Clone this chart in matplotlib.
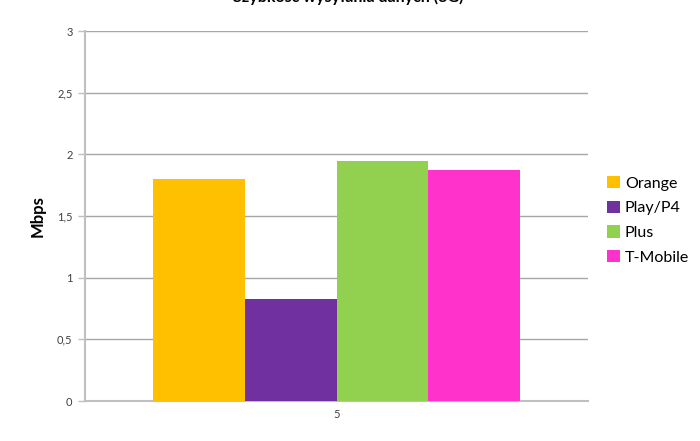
import matplotlib
matplotlib.use("Agg")
import matplotlib.pyplot as plt
import numpy as np

plt.rcParams['font.family'] = ['Lato', 'DejaVu Sans']

categories = ["5"]
operators = ["Orange", "Play/P4", "Plus", "T-Mobile"]
speeds = [1.80, 0.825, 1.945, 1.87]
colors = ["#FFC000", "#7030A0", "#92D050", "#FF33CC"]
yticks = [0, 0.5, 1, 1.5, 2, 2.5, 3]
ytick_labels = ["0", "0,5", "1", "1,5", "2", "2,5", "3"]

fig = plt.figure(figsize=(7, 4.41), dpi=100)
ax = fig.add_axes([85/700, 1 - 401/441, (588 - 85)/700, (401 - 31)/441])

bar_w = 0.182
x = np.arange(len(categories))
for i, (name, val, col) in enumerate(zip(operators, speeds, colors)):
    ax.bar(x + (i - 1.5) * bar_w, [val], width=bar_w, color=col, label=name, zorder=3)

ax.set_xlim(-0.5, 0.5)
ax.set_ylim(0, 3)
ax.set_yticks(yticks)
ax.set_yticklabels(ytick_labels, fontsize=8, color="#404040")
ax.set_xticks(x)
ax.set_xticklabels(categories, fontsize=8, color="#404040")
ax.yaxis.grid(True, color="#A6A6A6", linewidth=1, zorder=0)
ax.tick_params(axis="y", length=5, color="#BFBFBF", width=1, pad=4)
ax.tick_params(axis="x", length=0, pad=6)
for s in ["top", "right"]:
    ax.spines[s].set_visible(False)
for s in ["left", "bottom"]:
    ax.spines[s].set_color("#BFBFBF")
    ax.spines[s].set_linewidth(1.5)

ax.set_ylabel("Mbps", fontsize=12, fontweight="bold", labelpad=8)

fig.text(348/700, 1 - 5/441, "Szybkość wysyłania danych (3G)", ha="center",
         va="bottom", fontsize=11.5, fontweight="bold")
fig.text(338/700, 1 - 440.6/441, "Próba", ha="center", va="top",
         fontsize=11, fontweight="bold")

ax.legend(loc="center left", bbox_to_anchor=(1.01, 0.488), frameon=False,
          fontsize=11.5, handlelength=0.8, handleheight=0.8, handletextpad=0.3,
          labelspacing=0.62)

fig.savefig("out.png", dpi=100)
